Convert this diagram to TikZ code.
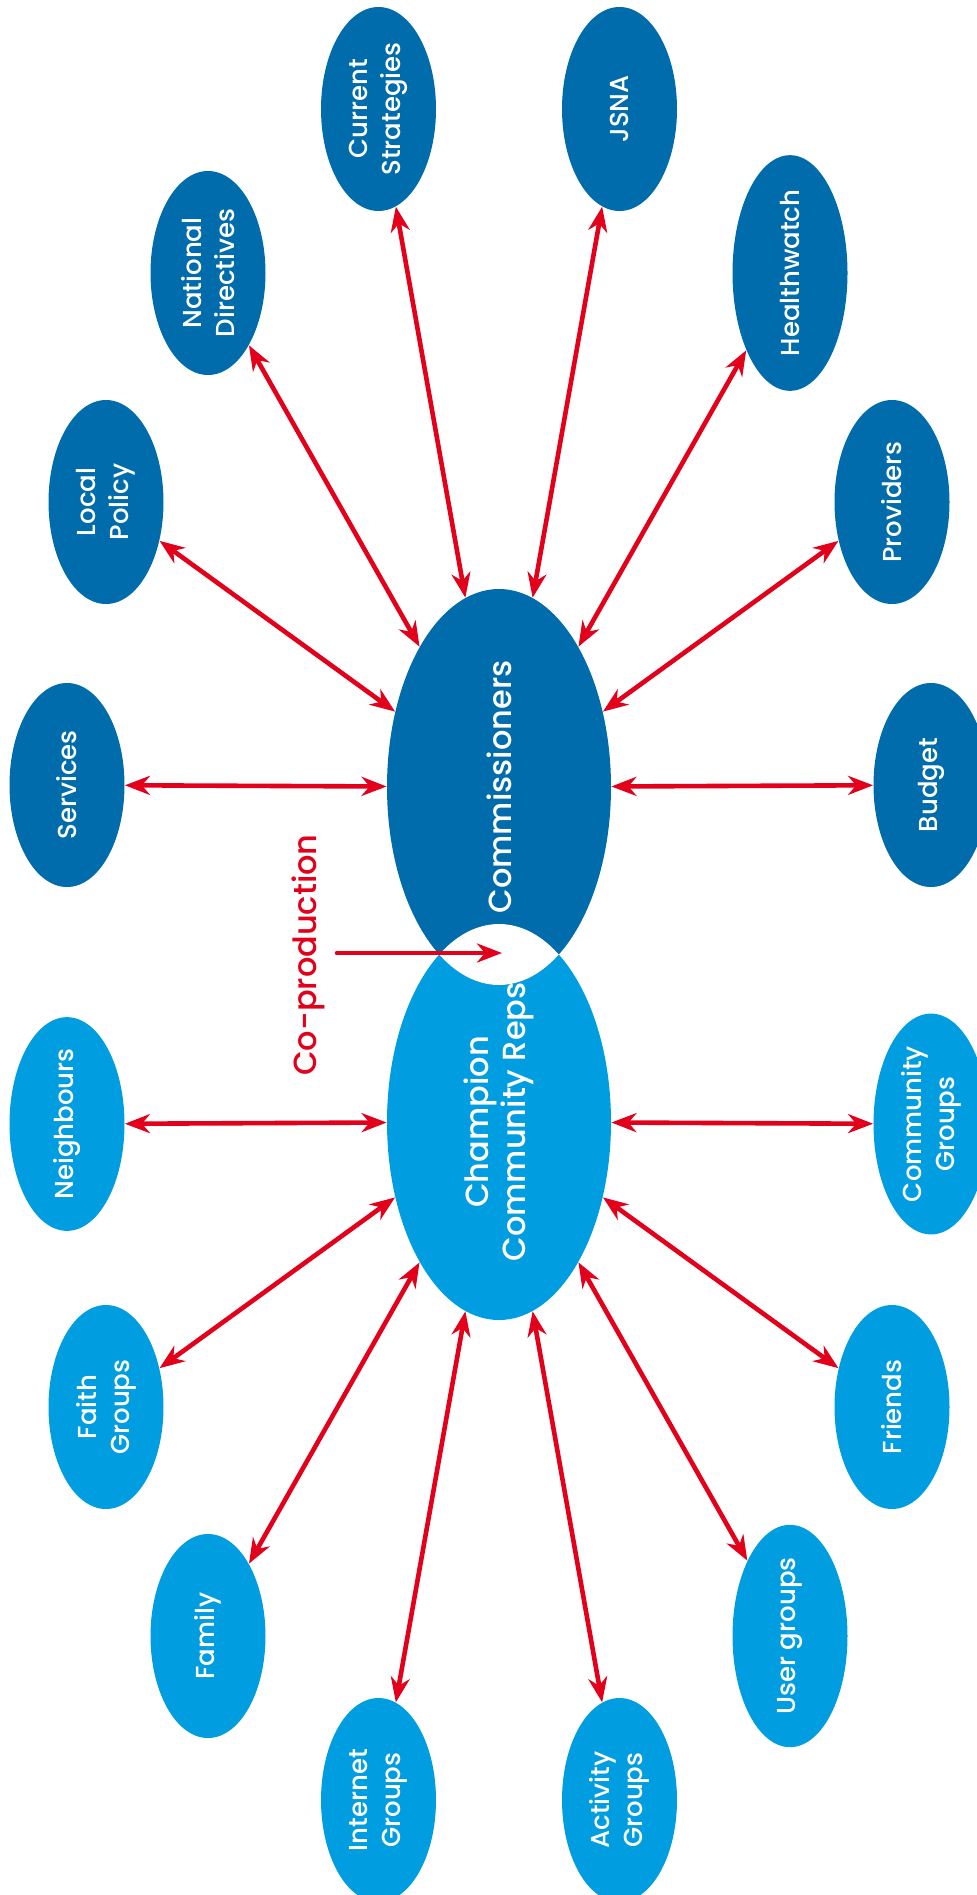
\documentclass[tikz,border=0pt]{standalone}
\usepackage{fontspec}
\setmainfont{Poppins}[UprightFont=* Medium]
\usetikzlibrary{arrows.meta,shapes.geometric}
\definecolor{commblue}{HTML}{006CAB}
\definecolor{repblue}{HTML}{009EE0}
\definecolor{linkred}{HTML}{E2001A}
\tikzset{
  hub/.style={ellipse,inner sep=0pt,minimum width=198pt,minimum height=112pt,rotate=90,
    text=white,align=center,font=\fontsize{16}{18.5}\selectfont},
  leaf/.style={ellipse,inner sep=0pt,minimum width=102pt,minimum height=57.5pt,rotate=90,
    text=white,align=center,font=\fontsize{13}{16.5}\selectfont},
  redhead/.tip={Stealth[length=12.5pt,width=9.5pt,inset=4pt]},
  link/.style={draw=linkred,line width=2.3pt,redhead-redhead},
}
\begin{document}
\begin{tikzpicture}[x=0.5pt,y=-0.5pt]
\useasboundingbox (0,0) rectangle (977,1895);
% the two hubs, with the white overlap
\node[hub,fill=repblue] (reps) at (499,1122) {Champion\\Community Reps};
\node[hub,fill=commblue] (comm) at (499,787) {Commissioners};
\begin{scope}
\clip (comm.center) ellipse [x radius=56pt,y radius=99pt];
\fill[white] (reps.center) ellipse [x radius=56pt,y radius=99pt];
\end{scope}
% commissioners side
\node[leaf,fill=commblue] (serv) at (67,785) {Services};
\node[leaf,fill=commblue] (locpol) at (106,502) {Local\\Policy};
\node[leaf,fill=commblue] (natdir) at (208,273) {National\\Directives};
\node[leaf,fill=commblue] (curstrat) at (378.5,109) {Current\\Strategies};
\node[leaf,fill=commblue] (jsna) at (619.5,109) {JSNA};
\node[leaf,fill=commblue] (hwatch) at (790,273) {Healthwatch};
\node[leaf,fill=commblue] (prov) at (892,502) {Providers};
\node[leaf,fill=commblue] (budget) at (931,785) {Budget};
% community side
\node[leaf,fill=repblue] (neigh) at (67,1124) {Neighbours};
\node[leaf,fill=repblue] (faith) at (106,1407) {Faith\\Groups};
\node[leaf,fill=repblue] (family) at (208,1636) {Family};
\node[leaf,fill=repblue] (internet) at (378.5,1800) {Internet\\Groups};
\node[leaf,fill=repblue] (activity) at (619.5,1800) {Activity\\Groups};
\node[leaf,fill=repblue] (usergr) at (790,1636) {User groups};
\node[leaf,fill=repblue] (friends) at (892,1407) {Friends};
\node[leaf,fill=repblue] (commgr) at (931,1124) {Community\\Groups};
% links
\foreach \n in {serv,locpol,natdir,curstrat,jsna,hwatch,prov,budget}
  \draw[link] (\n) -- (comm);
\foreach \n in {neigh,faith,family,internet,activity,usergr,friends,commgr}
  \draw[link] (\n) -- (reps);
% co-production
\node[rotate=90,text=linkred,font=\fontsize{16}{18.5}\selectfont] (coprod) at (308,955) {Co-production};
\coordinate (cpstart) at (337,953);
\coordinate (cpend) at (502,953);
\draw[linkred,line width=2.3pt,line cap=round,-redhead] (cpstart) -- (cpend);
\end{tikzpicture}
\end{document}
